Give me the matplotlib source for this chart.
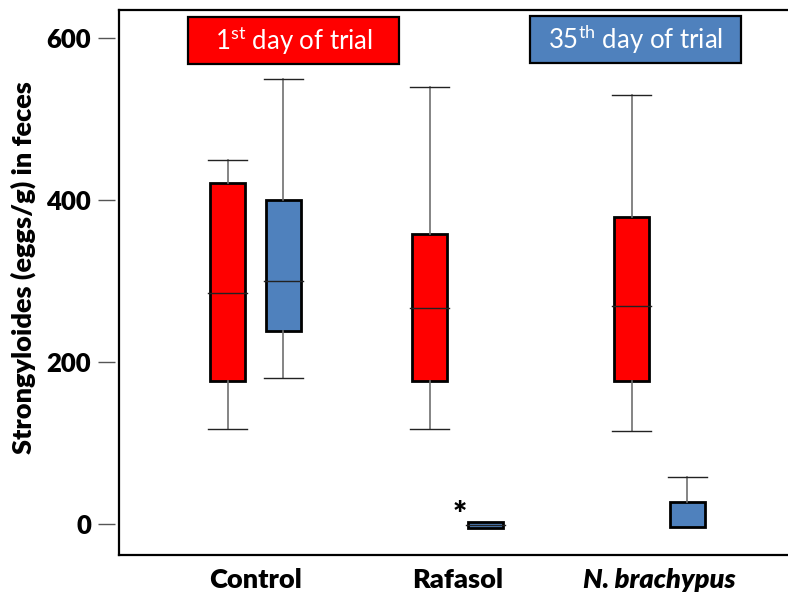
import matplotlib
matplotlib.use('Agg')
import matplotlib.pyplot as plt
from matplotlib.patches import Rectangle

plt.rcParams['font.family'] = ['Lato', 'DejaVu Sans']
plt.rcParams['mathtext.fontset'] = 'custom'
plt.rcParams['mathtext.rm'] = 'Lato'

# summary values (eggs/g)
groups = ['Control', 'Rafasol', 'N. brachypus']
day1_whislo = [118, 118, 115]
day1_q1 = [177, 177, 177]
day1_med = [286, 267, 270]
day1_q3 = [421, 358, 380]
day1_whishi = [450, 540, 530]
day35_whislo = [180, -5, -4]
day35_q1 = [238, -5, -4]
day35_med = [300, -1, -4]
day35_q3 = [400, 3, 27]
day35_whishi = [550, 3, 58]

red = '#FF0000'
blue = '#4F81BD'

def make_stats(lo, q1, med, q3, hi):
    return [dict(whislo=a, q1=b, med=c, q3=d, whishi=e, fliers=[])
            for a, b, c, d, e in zip(lo, q1, med, q3, hi)]

fig = plt.figure(figsize=(7.88, 5.92), dpi=100)
ax = fig.add_axes([119/788, 1-555/592, (800-119)/788, (555-10)/592])

centers = [1, 2, 3]
off = 0.138
bw = 0.175
cw = 0.19

for stats, shift, col in [(make_stats(day1_whislo, day1_q1, day1_med, day1_q3, day1_whishi), -off, red),
                          (make_stats(day35_whislo, day35_q1, day35_med, day35_q3, day35_whishi), off, blue)]:
    pos = [c + shift for c in centers]
    res = ax.bxp(stats, positions=pos, widths=bw, capwidths=cw, patch_artist=True,
                 showfliers=False, manage_ticks=False,
                 boxprops=dict(facecolor=col, edgecolor='black', linewidth=2),
                 whiskerprops=dict(color='#707070', linewidth=1.2),
                 capprops=dict(color='#222222', linewidth=1),
                 medianprops=dict(color='none'))
    for i, s in enumerate(stats):
        if s['med'] > s['q1']:
            ax.plot([pos[i]-cw/2, pos[i]+cw/2], [s['med'], s['med']], color='#222222', lw=1, zorder=4)
        if s['whislo'] == s['q1']:
            res['caps'][2*i].set_visible(False)
        if s['whishi'] == s['q3']:
            res['caps'][2*i+1].set_visible(False)

ax.set_xlim(1 - (255.5-119)/202, 1 + (800-255.5)/202)
ax.set_ylim(-38, 635)

ax.spines['right'].set_visible(False)
ax.spines['left'].set_position(('outward', 3))
ax.spines['left'].set_visible(False)
ax.plot([0, 0], [0, 1], transform=ax.transAxes, color='black', lw=1.6, clip_on=False)
ax.spines['top'].set_linewidth(1.6)
ax.spines['bottom'].set_linewidth(1.6)

ax.set_yticks([0, 200, 400, 600])
ax.tick_params(axis='y', length=12, width=1, color='#555555', pad=5, labelsize=18.5)
for t in ax.get_yticklabels():
    t.set_fontweight('heavy')

ax.set_xticks(centers)
ax.set_xticklabels(groups, fontsize=19.5, fontweight='heavy')
ax.tick_params(axis='x', length=0, pad=9)
ax.get_xticklabels()[2].set_fontstyle('italic')

ax.set_ylabel('Strongyloides (eggs/g) in feces', fontsize=19.5, fontweight='heavy', labelpad=6)
ax.yaxis.set_label_coords(-0.122, 0.527)

ax.text(2.012, 10, '*', ha='center', va='center', fontsize=24, fontweight='heavy')

# legend boxes
for cx, cy, col, label in [(293.5, 40.5, red, '1$^{\\mathrm{st}}$ day of trial'),
                           (635.5, 39.5, blue, '35$^{\\mathrm{th}}$ day of trial')]:
    w, h = 211, 47
    fig.patches.append(Rectangle(((cx-w/2)/788, 1-(cy+h/2)/592), w/788, h/592,
                                 transform=fig.transFigure, facecolor=col,
                                 edgecolor='black', linewidth=1.6, zorder=5))
    fig.text(cx/788, 1-cy/592, label, color='white', fontsize=18.5,
             ha='center', va='center', zorder=6)

fig.savefig('out.png', dpi=100)
